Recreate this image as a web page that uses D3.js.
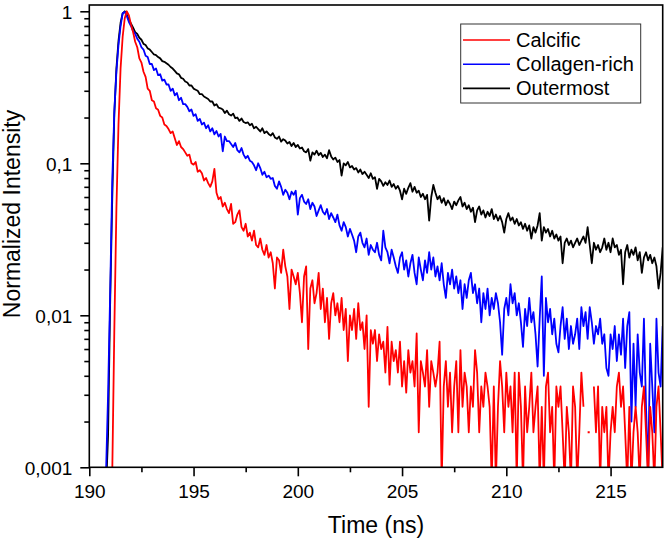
<!DOCTYPE html>
<html>
<head>
<meta charset="utf-8">
<script src="https://cdn.jsdelivr.net/npm/d3@7"></script>
<style>
html,body{margin:0;padding:0;background:#fff;}
svg{display:block;}
text{font-family:"Liberation Sans", Arial, sans-serif;fill:#000;}
</style>
</head>
<body>
<svg id="chart" width="666" height="543"></svg>
<script>
// ---- Data (time axis: start 190.7 ns, step 0.1 ns) ----
const timeStart = 190.7;
const timeStep = 0.1;
const seriesNames = ["Calcific", "Collagen-rich", "Outermost"];
const seriesColors = ["#ff0000", "#0000ff", "#000000"];

const calcific = [
  null, null, null, 0.0004, 0.0009, 0.008, 0.05, 0.18, 0.42, 0.68,
  0.90, 1.0, 0.94, 0.82, 0.73, 0.63, 0.58, 0.49, 0.46, 0.40,
  0.37, 0.31, 0.30, 0.26, 0.255, 0.23, 0.225, 0.205, 0.20, 0.18,
  0.176, 0.168, 0.158, 0.162, 0.146, 0.132, 0.14, 0.128, 0.124, 0.118,
  0.112, 0.114, 0.1, 0.098, 0.102, 0.088, 0.09, 0.086, 0.077, 0.08,
  0.074, 0.07, 0.076, 0.092, 0.064, 0.058, 0.06, 0.052, 0.055, 0.05,
  0.047, 0.054, 0.04, 0.041, 0.046, 0.049, 0.038, 0.036, 0.04, 0.033,
  0.035, 0.031, 0.036, 0.029, 0.028, 0.032, 0.027, 0.025, 0.029, 0.024,
  0.026, 0.022, 0.015, 0.024, 0.023, 0.019, 0.027, 0.021, 0.018, 0.011,
  0.02, 0.018, 0.016, 0.019, 0.014, 0.009, 0.018, 0.021, 0.006, 0.015,
  0.017, 0.012, 0.014, 0.019, 0.011, 0.015, 0.009, 0.013, 0.007, 0.012,
  0.014, 0.01, 0.012, 0.009, 0.013, 0.008, 0.011, 0.005, 0.01, 0.008,
  0.011, 0.007, 0.012, 0.008, 0.009, 0.006, 0.01, 0.0025, 0.008, 0.0065,
  0.008, 0.005, 0.0075, 0.006, 0.0067, 0.0042, 0.0084, 0.0035, 0.0067, 0.005,
  0.0059, 0.0042, 0.0067, 0.0034, 0.005, 0.0031, 0.0059, 0.0042, 0.005, 0.0034,
  0.0076, 0.0017, 0.005, 0.0042, 0.0034, 0.0059, 0.0025, 0.005, 0.0042, 0.0034,
  0.0042, 0.0067, 0.0008, 0.0034, 0.005, 0.0025, 0.0042, 0.0017, 0.0034, 0.005,
  0.0017, 0.0059, 0.0025, 0.0042, 0.0034, 0.0017, 0.0034, 0.0025, 0.0059, 0.0042,
  0.0017, 0.0034, 0.0025, 0.0042, 0.0034, 0.0025, 0.0008, 0.0034, 0.0008, 0.0025,
  0.005, 0.0034, 0.0017, 0.0042, 0.0025, 0.0034, 0.0017, 0.0042, 0.0008, 0.0042,
  0.0025, 0.0008, 0.0034, 0.0017, 0.0025, 0.0042, 0.0017, 0.0025, 0.0034, 0.0008,
  0.0025, 0.0008, 0.0034, 0.0042, 0.0017, 0.0025, 0.0008, 0.0034, 0.0025, 0.0034,
  0.0017, 0.0008, 0.0025, 0.0017, 0.0008, 0.0034, 0.0025, 0.0008, 0.0017, 0.0042,
  0.0025, null, 0.0017, 0.0017, null, 0.0034, 0.0017, 0.0034, 0.0008, 0.0025,
  0.0017, 0.0025, 0.0008, 0.0017, 0.0025, 0.0017, 0.0034, 0.0042, 0.0025, 0.0034,
  0.0017, 0.0008, 0.0025, 0.0008, 0.0017, 0.0025, 0.0017, 0.0008, 0.0025, 0.0034,
  0.0017, 0.0008, 0.0025, 0.0017, 0.0008, 0.0025, 0.0034, 0.0017, 0.0008
];

const collagenRich = [
  0.0006, 0.0009, 0.003, 0.014, 0.075, 0.22, 0.40, 0.60, 0.80, 0.97,
  0.99, 0.93, 0.85, 0.80, 0.74, 0.71, 0.66, 0.63, 0.58, 0.56,
  0.51, 0.50, 0.45, 0.45, 0.41, 0.42, 0.38, 0.385, 0.35, 0.355,
  0.33, 0.33, 0.30, 0.31, 0.28, 0.29, 0.26, 0.27, 0.245, 0.245,
  0.235, 0.22, 0.226, 0.205, 0.21, 0.19, 0.196, 0.18, 0.185, 0.17,
  0.178, 0.162, 0.17, 0.155, 0.163, 0.15, 0.156, 0.12, 0.15, 0.14,
  0.14, 0.134, 0.128, 0.136, 0.122, 0.118, 0.126, 0.114, 0.108, 0.112,
  0.104, 0.102, 0.097, 0.09, 0.1, 0.093, 0.084, 0.088, 0.081, 0.083,
  0.079, 0.08, 0.071, 0.068, 0.076, 0.07, 0.062, 0.067, 0.064, 0.058,
  0.065, 0.062, 0.066, 0.046, 0.059, 0.062, 0.056, 0.054, 0.058, 0.05,
  0.055, 0.052, 0.045, 0.049, 0.053, 0.048, 0.046, 0.05, 0.043, 0.047,
  0.044, 0.041, 0.046, 0.039, 0.036, 0.041, 0.038, 0.033, 0.037, 0.034,
  0.031, 0.026, 0.033, 0.035, 0.03, 0.028, 0.032, 0.025, 0.029, 0.027,
  0.026, 0.03, 0.025, 0.023, 0.036, 0.028, 0.026, 0.022, 0.027, 0.024,
  0.021, 0.019, 0.024, 0.026, 0.02, 0.023, 0.018, 0.022, 0.025, 0.019,
  0.016, 0.024, 0.02, 0.017, 0.023, 0.019, 0.026, 0.02, 0.024, 0.018,
  0.021, 0.017, 0.022, 0.016, 0.013, 0.019, 0.016, 0.02, 0.015, 0.018,
  0.014, 0.017, 0.011, 0.016, 0.013, 0.017, 0.019, 0.014, 0.016, 0.012,
  0.015, 0.009, 0.014, 0.011, 0.015, 0.01, 0.013, 0.011, 0.014, 0.012,
  0.009, 0.0055, 0.011, 0.013, 0.01, 0.016, 0.012, 0.014, 0.01, 0.012,
  0.009, 0.0062, 0.011, 0.0085, 0.013, 0.009, 0.0105, 0.0075, 0.0046, 0.0095,
  0.018, 0.004, 0.013, 0.009, 0.011, 0.0075, 0.0095, 0.0065, 0.0057, 0.0085,
  0.0113, 0.007, 0.0095, 0.006, 0.0085, 0.0065, 0.0075, 0.0095, 0.006, 0.0113,
  0.0085, 0.0105, 0.007, 0.0113, 0.009, 0.0065, 0.0085, 0.0075, 0.0095, 0.0065,
  0.0075, 0.0045, 0.004, 0.0075, 0.006, 0.0085, 0.005, 0.0075, 0.0055, 0.0095,
  0.0045, 0.0085, 0.0105, 0.002, 0.0065, 0.0025, 0.0075, 0.0042, 0.0034, 0.0095,
  0.0025, 0.0009, 0.0065, 0.0034, 0.0017, 0.0095, 0.0042, 0.0034, 0.0085
];

const outermost = [
  0.0004, 0.0007, 0.0016, 0.012, 0.058, 0.21, 0.42, 0.64, 0.84, 0.97,
  1.0, 0.95, 0.88, 0.83, 0.78, 0.73, 0.71, 0.67, 0.65, 0.61,
  0.60, 0.57, 0.56, 0.54, 0.52, 0.515, 0.50, 0.49, 0.47, 0.465,
  0.455, 0.445, 0.43, 0.42, 0.405, 0.39, 0.385, 0.365, 0.36, 0.345,
  0.34, 0.325, 0.325, 0.31, 0.305, 0.3, 0.285, 0.285, 0.275, 0.27,
  0.265, 0.255, 0.255, 0.24, 0.245, 0.232, 0.23, 0.226, 0.214, 0.222,
  0.21, 0.206, 0.212, 0.198, 0.2, 0.19, 0.197, 0.187, 0.184, 0.186,
  0.178, 0.182, 0.17, 0.174, 0.168, 0.162, 0.17, 0.158, 0.162, 0.156,
  0.152, 0.158, 0.148, 0.145, 0.15, 0.139, 0.144, 0.141, 0.135, 0.138,
  0.13, 0.136, 0.128, 0.132, 0.125, 0.127, 0.12, 0.118, 0.124, 0.104,
  0.118, 0.114, 0.121, 0.113, 0.117, 0.11, 0.114, 0.108, 0.122, 0.111,
  0.106, 0.109, 0.102, 0.105, 0.083, 0.1, 0.097, 0.102, 0.094, 0.096,
  0.091, 0.093, 0.087, 0.091, 0.085, 0.088, 0.084, 0.08, 0.086, 0.079,
  0.081, 0.068, 0.079, 0.076, 0.071, 0.075, 0.072, 0.077, 0.07, 0.073,
  0.068, 0.071, 0.066, 0.058, 0.068, 0.063, 0.069, 0.074, 0.065, 0.07,
  0.064, 0.066, 0.06, 0.063, 0.058, 0.062, 0.042, 0.06, 0.072, 0.064,
  0.058, 0.061, 0.055, 0.059, 0.053, 0.057, 0.054, 0.05, 0.056, 0.053,
  0.057, 0.06, 0.052, 0.055, 0.05, 0.053, 0.048, 0.051, 0.041, 0.049,
  0.052, 0.046, 0.049, 0.044, 0.048, 0.045, 0.05, 0.043, 0.046, 0.042,
  0.045, 0.041, 0.035, 0.043, 0.047, 0.042, 0.044, 0.04, 0.043, 0.039,
  0.041, 0.037, 0.04, 0.036, 0.039, 0.032, 0.038, 0.035, 0.039, 0.047,
  0.031, 0.038, 0.035, 0.037, 0.033, 0.036, 0.032, 0.034, 0.031, 0.033,
  0.022, 0.03, 0.032, 0.029, 0.031, 0.028, 0.03, 0.032, 0.029, 0.031,
  0.033, 0.03, 0.038, 0.029, 0.022, 0.03, 0.027, 0.029, 0.026, 0.028,
  0.032, 0.027, 0.03, 0.026, 0.032, 0.028, 0.029, 0.025, 0.027, 0.016,
  0.026, 0.029, 0.024, 0.027, 0.025, 0.028, 0.023, 0.026, 0.019, 0.024,
  0.026, 0.023, 0.025, 0.022, 0.024, 0.021, 0.015, 0.019, 0.028
];

const xMajorTicks = [190, 195, 200, 205, 210, 215];
const xMinorTicks = [192.5, 197.5, 202.5, 207.5, 212.5];
const yMajorTicks = [0.001, 0.01, 0.1, 1];
const yTickLabels = ["0,001", "0,01", "0,1", "1"];
const xDomain = [190, 217.5];
const yDomain = [0.001, 1.1];
const xTitle = "Time (ns)";
const yTitle = "Normalized Intensity";

// ---- Layout ----
const plot = { left: 89.3, right: 662.7, top: 5, bottom: 467.3 };
const svg = d3.select("#chart");
svg.append("rect").attr("width", 666).attr("height", 543).attr("fill", "#fff");

const x = d3.scaleLinear().domain(xDomain).range([plot.left, plot.right]);
const y = d3.scaleLog().domain(yDomain).range([plot.bottom, plot.top]);

// minor y ticks 2..9 per decade
const yMinorTicks = [];
[0.001, 0.01, 0.1].forEach(d => { for (let k = 2; k <= 9; k++) yMinorTicks.push(d * k); });

svg.append("defs").append("clipPath").attr("id", "clip")
  .append("rect")
  .attr("x", plot.left).attr("y", plot.top)
  .attr("width", plot.right - plot.left).attr("height", plot.bottom - plot.top);

// ---- Series ----
const allSeries = [outermost, collagenRich, calcific];
const allColors = [seriesColors[2], seriesColors[1], seriesColors[0]];
const line = d3.line()
  .defined(d => d.v !== null)
  .x(d => x(d.t))
  .y(d => y(d.v));

const gLines = svg.append("g").attr("clip-path", "url(#clip)");
allSeries.forEach((arr, si) => {
  const pts = arr.map((v, i) => ({ t: timeStart + i * timeStep, v: v }));
  gLines.append("path")
    .datum(pts)
    .attr("d", line)
    .attr("fill", "none")
    .attr("stroke", allColors[si])
    .attr("stroke-width", 1.8)
    .attr("stroke-linejoin", "round");
});

// ---- Axes ----
const axisW = 1.6;
const gx = svg.append("g").attr("transform", `translate(0,${plot.bottom})`);
gx.call(d3.axisBottom(x).tickValues(xMajorTicks).tickSize(9).tickFormat(d3.format("d")));
gx.append("g").call(d3.axisBottom(x).tickValues(xMinorTicks).tickSize(5).tickFormat(""));
gx.selectAll(".domain").remove();
gx.selectAll("line").attr("stroke", "#000").attr("stroke-width", axisW);
gx.selectAll("text").attr("font-size", 19).attr("dy", null).attr("y", 31)
  .style("font-family", '"Liberation Sans", Arial, sans-serif');

const gy = svg.append("g").attr("transform", `translate(${plot.left},0)`);
gy.call(d3.axisLeft(y).tickValues(yMajorTicks).tickSize(9)
  .tickFormat((d, i) => yTickLabels[i]));
gy.append("g").call(d3.axisLeft(y).tickValues(yMinorTicks).tickSize(5).tickFormat(""));
gy.selectAll(".domain").remove();
gy.selectAll("line").attr("stroke", "#000").attr("stroke-width", axisW);
gy.selectAll("text").attr("font-size", 19).attr("x", -17).attr("dy", "0.36em")
  .style("font-family", '"Liberation Sans", Arial, sans-serif');

// frame
svg.append("rect")
  .attr("x", plot.left).attr("y", plot.top)
  .attr("width", plot.right - plot.left).attr("height", plot.bottom - plot.top)
  .attr("fill", "none").attr("stroke", "#000").attr("stroke-width", axisW);

// titles
svg.append("text")
  .attr("x", (plot.left + plot.right) / 2).attr("y", 533)
  .attr("text-anchor", "middle").attr("font-size", 23)
  .text(xTitle);
svg.append("text")
  .attr("transform", "translate(20,214) rotate(-90)")
  .attr("text-anchor", "middle").attr("font-size", 23)
  .text(yTitle);

// ---- Legend ----
const lg = svg.append("g");
lg.append("rect")
  .attr("x", 460.7).attr("y", 24).attr("width", 180).attr("height", 79)
  .attr("fill", "#fff").attr("stroke", "#333").attr("stroke-width", 1);
seriesNames.forEach((name, i) => {
  const ly = 40 + i * 24.2;
  lg.append("line")
    .attr("x1", 463).attr("x2", 510).attr("y1", ly).attr("y2", ly)
    .attr("stroke", seriesColors[i]).attr("stroke-width", 1.6);
  lg.append("text")
    .attr("x", 516).attr("y", ly + 7)
    .attr("font-size", 20)
    .text(name);
});
</script>
</body>
</html>
